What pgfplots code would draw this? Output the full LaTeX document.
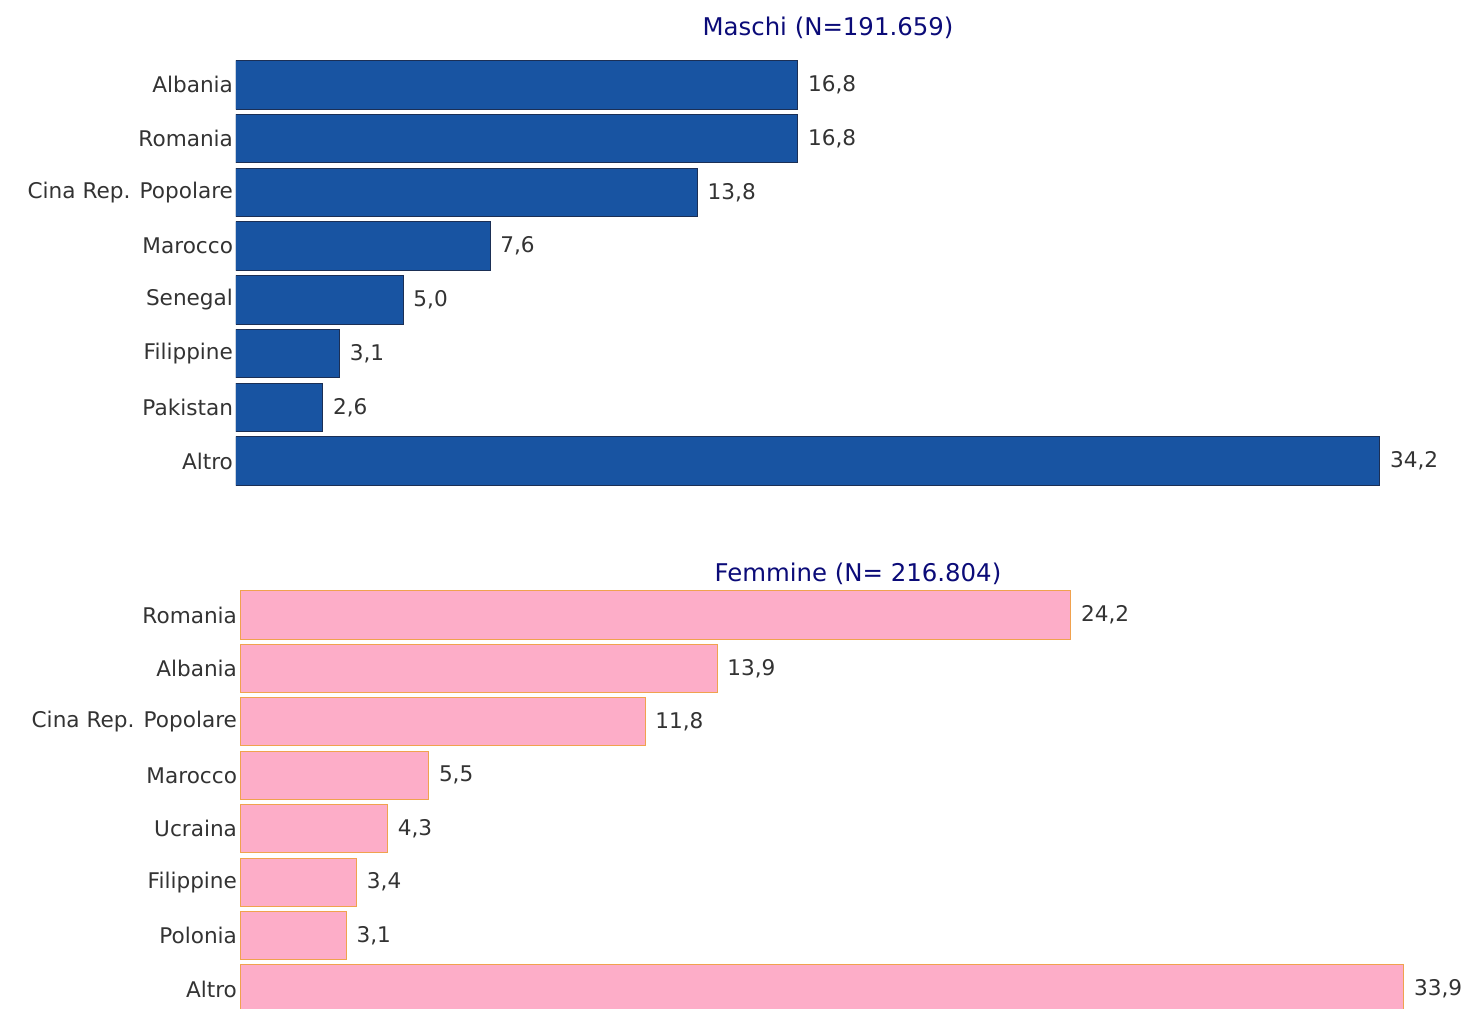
\documentclass[border=0pt]{standalone}
\usepackage{fontspec}
\setmainfont{DejaVu Sans}
\usepackage{pgfplots}
\pgfplotsset{compat=1.18}
\definecolor{BarBlue}{HTML}{1854A2}
\definecolor{EdgeBlue}{HTML}{1B2F55}
\definecolor{BarPink}{HTML}{FDADC8}
\definecolor{EdgePink}{HTML}{F0A24E}
\definecolor{Ink}{HTML}{333333}
\definecolor{Navy}{HTML}{0B0B78}
\pgfplotsset{hbars/.style={xbar,scale only axis,y dir=reverse,bar width=0.9,
  xmin=0,ymin=-0.5,ymax=7.5,ytick={0,...,7},xtick=\empty,
  axis line style={draw=none},major tick length=0pt,
  y tick label style={font=\fontsize{10.8}{12}\selectfont,text=Ink,xshift=2pt},
  nodes near coords,
  nodes near coords style={anchor=west,font=\fontsize{10.8}{12}\selectfont,text=Ink,xshift=1.5pt},
  point meta=explicit symbolic,
  title style={font=\fontsize{12.2}{15}\selectfont,text=Navy,anchor=center,at={(0.5,1)}}}}
\begin{document}
\begin{tikzpicture}
\clip (0,0) rectangle (736pt,504pt);
\begin{axis}[hbars,at={(118pt,260pt)},anchor=south west,width=592pt,height=215pt,xmax=35.4,
  yticklabels={Albania,Romania,Cina Rep. Popolare,Marocco,Senegal,Filippine,Pakistan,Altro},
  title={Maschi (N=191.659)},title style={yshift=9pt}]
\addplot+[fill=BarBlue,draw=EdgeBlue,line width=0.5pt] coordinates {(16.8,0) [16,8] (16.8,1) [16,8] (13.8,2) [13,8] (7.6,3) [7,6] (5.0,4) [5,0] (3.1,5) [3,1] (2.6,6) [2,6] (34.2,7) [34,2]};
\end{axis}
\begin{axis}[hbars,at={(120pt,-3.85pt)},anchor=south west,width=618pt,height=213.7pt,xmax=36,
  yticklabels={Romania,Albania,Cina Rep. Popolare,Marocco,Ucraina,Filippine,Polonia,Altro},
  title={Femmine (N= 216.804)},title style={yshift=1pt}]
\addplot+[fill=BarPink,draw=EdgePink,line width=0.5pt] coordinates {(24.2,0) [24,2] (13.9,1) [13,9] (11.8,2) [11,8] (5.5,3) [5,5] (4.3,4) [4,3] (3.4,5) [3,4] (3.1,6) [3,1] (33.9,7) [33,9]};
\end{axis}
\end{tikzpicture}
\end{document}
